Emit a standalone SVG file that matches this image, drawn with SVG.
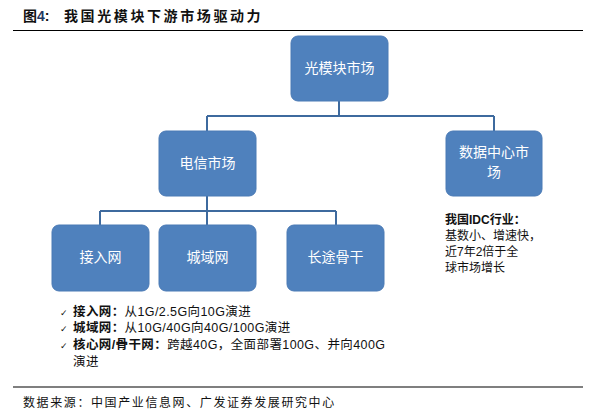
<svg xmlns="http://www.w3.org/2000/svg" width="593" height="416" viewBox="0 0 593 416">
<style>
.box{fill:#4F81BD;stroke:#4A7AB5;stroke-width:1}
.bt{font-family:"Noto Sans CJK SC","Liberation Sans",sans-serif;font-size:14px;fill:#FFFFFF;text-anchor:middle}
.con{fill:none;stroke:#3E6A9E;stroke-width:2}
.t{font-family:"Liberation Sans","Noto Sans CJK SC",sans-serif;font-size:12.5px;fill:#111111}
.b{font-weight:bold}
.rule{stroke:#000;stroke-width:1.2}
</style>
<rect width="593" height="416" fill="#FFFFFF"/>
<text x="23" y="21" class="t b" style="font-size:14px" fill="#222">图<tspan fill="#1F3864">4</tspan>:<tspan x="64" style="letter-spacing:2.6px">我国光模块下游市场驱动力</tspan></text>
<line x1="13" y1="30.5" x2="583" y2="30.5" class="rule"/>
<g id="connectors">
<path class="con" d="M339 101 V116 M207 116 H494 M207 116 V131 M494 116 V131"/>
<path class="con" d="M207 196 V211 M100 211 H336 M100 211 V225 M207 211 V225 M336 211 V225"/>
</g>
<g id="n_gmk"><rect class="box" x="291" y="36" width="97" height="65" rx="7"/><text class="bt" x="339.5" y="73">光模块市场</text></g>
<g id="n_dx"><rect class="box" x="159" y="131" width="97" height="65" rx="7"/><text class="bt" x="207.5" y="168">电信市场</text></g>
<g id="n_sj"><rect class="box" x="446" y="131" width="96" height="65" rx="7"/><text class="bt" x="494" y="157">数据中心市</text><text class="bt" x="494" y="177">场</text></g>
<g id="n_jr"><rect class="box" x="52" y="225" width="97" height="66" rx="7"/><text class="bt" x="100.5" y="262">接入网</text></g>
<g id="n_cy"><rect class="box" x="159" y="225" width="97" height="66" rx="7"/><text class="bt" x="207.5" y="262">城域网</text></g>
<g id="n_ct"><rect class="box" x="287" y="225" width="97" height="66" rx="7"/><text class="bt" x="335.5" y="262">长途骨干</text></g>
<g id="idc">
<text x="445" y="224" class="t b" style="font-size:12px">我国IDC行业：</text>
<text x="445" y="240" class="t" style="font-size:12px">基数小、增速快，</text>
<text x="445" y="256" class="t" style="font-size:12px">近7年2倍于全</text>
<text x="445" y="272" class="t" style="font-size:12px">球市场增长</text>
</g>
<g id="bullets">
<text x="60" y="316" class="t" style="font-family:'DejaVu Sans',sans-serif;font-size:9px">✓</text>
<text x="60" y="332" class="t" style="font-family:'DejaVu Sans',sans-serif;font-size:9px">✓</text>
<text x="60" y="349" class="t" style="font-family:'DejaVu Sans',sans-serif;font-size:9px">✓</text>
<text x="73" y="316" class="t" style="letter-spacing:0.4px"><tspan class="b">接入网：</tspan>从1G/2.5G向10G演进</text>
<text x="73" y="332" class="t" style="letter-spacing:0.4px"><tspan class="b">城域网：</tspan>从10G/40G向40G/100G演进</text>
<text x="73" y="349" class="t" style="letter-spacing:0.4px"><tspan class="b">核心网/骨干网：</tspan>跨越40G，全面部署100G、并向400G</text>
<text x="73" y="366" class="t" style="letter-spacing:0.4px">演进</text>
</g>
<line x1="13" y1="387" x2="583" y2="387" class="rule"/>
<text x="23" y="407" class="t" style="font-size:12px;letter-spacing:1.6px">数据来源：中国产业信息网、广发证券发展研究中心</text>
</svg>
